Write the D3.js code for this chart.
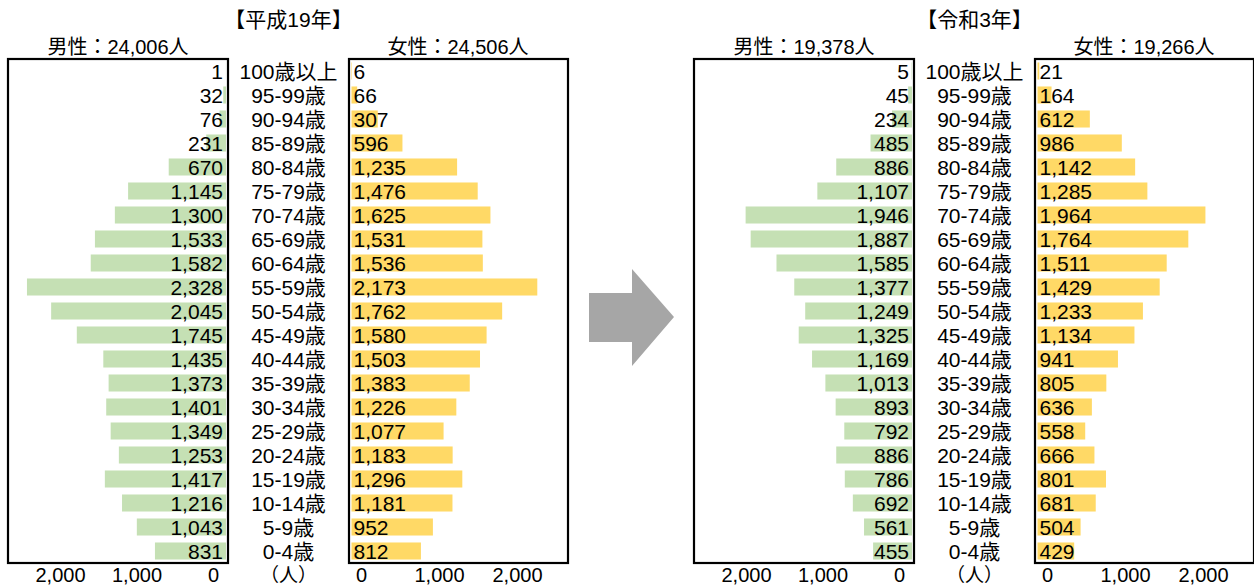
<!DOCTYPE html>
<html>
<head>
<meta charset="utf-8">
<script src="https://cdn.jsdelivr.net/npm/d3@7"></script>
<style>
  html, body { margin: 0; padding: 0; background: #fff; }
  svg { display: block; font-family: "Liberation Sans", "Noto Sans CJK JP", sans-serif; }
</style>
</head>
<body>
<svg id="chart" width="1254" height="588"></svg>
<script>
// Age groups, oldest at the top
const ageGroups = ["100歳以上", "95-99歳", "90-94歳", "85-89歳", "80-84歳", "75-79歳",
  "70-74歳", "65-69歳", "60-64歳", "55-59歳", "50-54歳", "45-49歳", "40-44歳",
  "35-39歳", "30-34歳", "25-29歳", "20-24歳", "15-19歳", "10-14歳", "5-9歳", "0-4歳"];

// 平成19年
const maleH19 = [1, 32, 76, 231, 670, 1145, 1300, 1533, 1582, 2328, 2045, 1745, 1435,
  1373, 1401, 1349, 1253, 1417, 1216, 1043, 831];
const femaleH19 = [6, 66, 307, 596, 1235, 1476, 1625, 1531, 1536, 2173, 1762, 1580, 1503,
  1383, 1226, 1077, 1183, 1296, 1181, 952, 812];

// 令和3年
const maleR3 = [5, 45, 234, 485, 886, 1107, 1946, 1887, 1585, 1377, 1249, 1325, 1169,
  1013, 893, 792, 886, 786, 692, 561, 455];
const femaleR3 = [21, 164, 612, 986, 1142, 1285, 1964, 1764, 1511, 1429, 1233, 1134, 941,
  805, 636, 558, 666, 801, 681, 504, 429];

const panelTitles = ["【平成19年】", "【令和3年】"];
const maleTotals = ["男性：24,006人", "男性：19,378人"];
const femaleTotals = ["女性：24,506人", "女性：19,266人"];
const tickValues = [0, 1000, 2000];
const unitLabel = "（人）";

const GREEN = "#c5e0b4";
const YELLOW = "#ffd966";

const svg = d3.select("#chart");
const fmt = d3.format(",");

// Vertical band scale shared by both panels
const y = d3.scaleBand().domain(ageGroups).range([59, 563]).paddingInner(0.29).paddingOuter(0.145);

function drawPanel(ox, title, maleTotal, femaleTotal, male, female) {
  const g = svg.append("g").attr("transform", `translate(${ox},0)`);

  // Box geometry for this panel
  const mBox = [8, 228], fBox = [349, 568];
  const mZero = 226, fZero = 351.5;
  const pxPer = 0.0855;

  const xm = d3.scaleLinear().domain([0, 2500]).range([mZero, mZero - 2500 * pxPer]);
  const xf = d3.scaleLinear().domain([0, 2500]).range([fZero, fZero + 2500 * pxPer]);
  // label positions along the bottom axis
  const xmAxis = d3.scaleLinear().domain([0, 2000]).range([213, 60]);
  const xfAxis = d3.scaleLinear().domain([0, 2000]).range([361, 517]);

  // Titles
  g.append("text").attr("x", 288.5).attr("y", 27).attr("text-anchor", "middle")
    .attr("font-size", 21).text(title);
  g.append("text").attr("x", 118).attr("y", 54).attr("text-anchor", "middle")
    .attr("font-size", 20).text(maleTotal);
  g.append("text").attr("x", 458).attr("y", 54).attr("text-anchor", "middle")
    .attr("font-size", 20).text(femaleTotal);

  // Male bars
  g.append("g").selectAll("rect").data(male).join("rect")
    .attr("x", d => xm(d))
    .attr("y", (d, i) => y(ageGroups[i]))
    .attr("width", d => xm(0) - xm(d))
    .attr("height", y.bandwidth())
    .attr("fill", GREEN);

  // Female bars
  g.append("g").selectAll("rect").data(female).join("rect")
    .attr("x", xf(0))
    .attr("y", (d, i) => y(ageGroups[i]))
    .attr("width", d => xf(d) - xf(0))
    .attr("height", y.bandwidth())
    .attr("fill", YELLOW);

  // Value labels
  g.append("g").selectAll("text").data(male).join("text")
    .attr("x", 223)
    .attr("y", (d, i) => y(ageGroups[i]) + y.bandwidth() / 2)
    .attr("dy", "0.36em")
    .attr("text-anchor", "end")
    .attr("font-size", 21)
    .text(d => fmt(d));

  g.append("g").selectAll("text").data(female).join("text")
    .attr("x", 353.5)
    .attr("y", (d, i) => y(ageGroups[i]) + y.bandwidth() / 2)
    .attr("dy", "0.36em")
    .attr("text-anchor", "start")
    .attr("font-size", 21)
    .text(d => fmt(d));

  // Age group labels
  g.append("g").selectAll("text").data(ageGroups).join("text")
    .attr("x", 288.5)
    .attr("y", d => y(d) + y.bandwidth() / 2)
    .attr("dy", "0.36em")
    .attr("text-anchor", "middle")
    .attr("font-size", 21)
    .text(d => d);

  // Frames
  g.append("rect").attr("x", mBox[0]).attr("y", 59).attr("width", mBox[1] - mBox[0]).attr("height", 504)
    .attr("fill", "none").attr("stroke", "#000").attr("stroke-width", 2.2);
  g.append("rect").attr("x", fBox[0]).attr("y", 59).attr("width", fBox[1] - fBox[0]).attr("height", 504)
    .attr("fill", "none").attr("stroke", "#000").attr("stroke-width", 2.2);

  // Bottom axes (labels only)
  const axM = g.append("g").attr("transform", "translate(0,566)")
    .call(d3.axisBottom(xmAxis).tickValues(tickValues).tickFormat(fmt).tickSize(0).tickPadding(0));
  const axF = g.append("g").attr("transform", "translate(0,566)")
    .call(d3.axisBottom(xfAxis).tickValues(tickValues).tickFormat(fmt).tickSize(0).tickPadding(0));
  [axM, axF].forEach(ax => {
    ax.select(".domain").remove();
    ax.selectAll("text").attr("font-size", 20).attr("fill", "#000")
      .attr("font-family", "\"Liberation Sans\", \"Noto Sans CJK JP\", sans-serif").attr("dy", "0.8em");
  });

  g.append("text").attr("x", 288.5).attr("y", 582).attr("text-anchor", "middle")
    .attr("font-size", 19).text(unitLabel);
}

drawPanel(0, panelTitles[0], maleTotals[0], femaleTotals[0], maleH19, femaleH19);
drawPanel(686, panelTitles[1], maleTotals[1], femaleTotals[1], maleR3, femaleR3);

// Arrow between the two years
svg.append("path")
  .attr("d", d3.line()([[589, 293], [632, 293], [632, 269], [674, 317], [632, 366], [632, 342], [589, 342]]) + "Z")
  .attr("fill", "#a6a6a6");
</script>
</body>
</html>
